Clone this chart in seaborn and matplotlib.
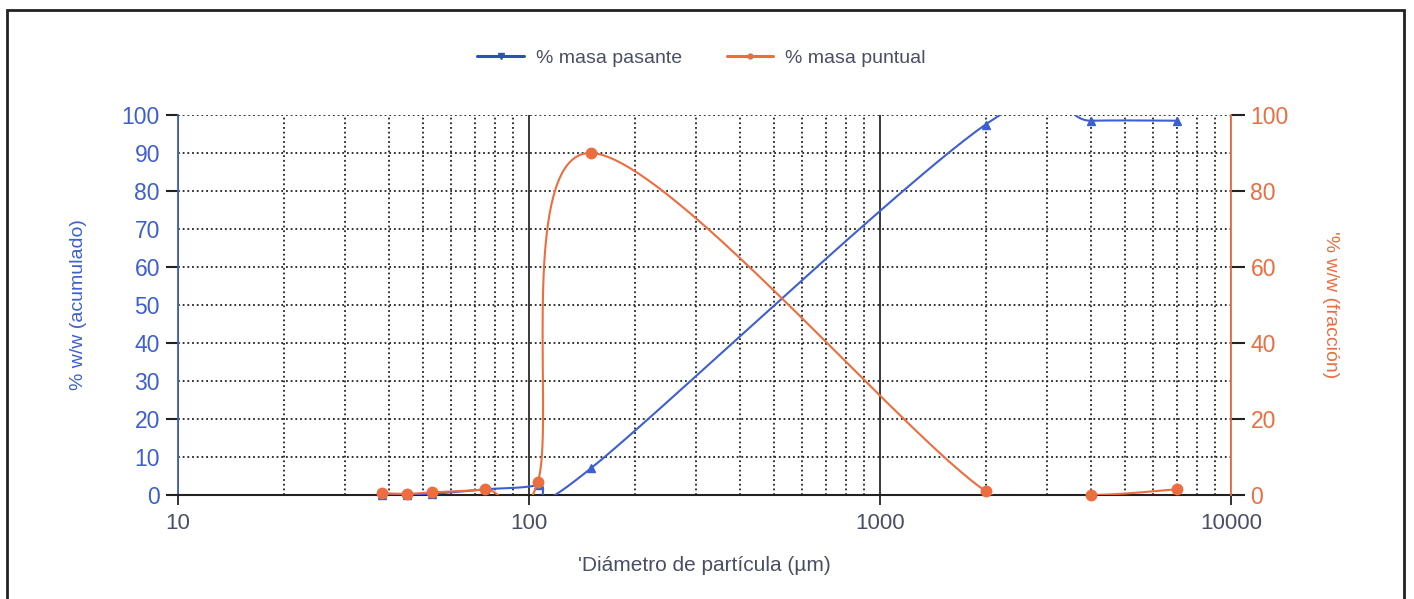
import numpy as np
import matplotlib
matplotlib.use("Agg")
import matplotlib.pyplot as plt
import seaborn as sns
from matplotlib.lines import Line2D
from matplotlib.patches import Rectangle
from matplotlib.ticker import LogLocator, NullFormatter

# Data
diametro = [38, 45, 53, 75, 106, 150, 2000, 4000, 7000]          # µm
masa_pasante = [0.0, 0.1, 0.3, 1.5, 2.6, 7.0, 97.5, 98.5, 98.5]   # % acumulado
masa_puntual = [0.5, 0.3, 0.7, 1.5, 3.5, 90.0, 1.0, 0.0, 1.5]     # % fraccion

x_ticks = [10, 100, 1000, 10000]
left_ticks = list(range(0, 101, 10))
right_ticks = list(range(0, 101, 20))

BLUE = "#3d5fd0"
ORANGE = "#ec6d3f"
TXT = "#4a4f66"


def excel_smooth(x, y, n=80):
    # smoothed line like the spreadsheet one: bezier segments in (log x, y)
    pts = np.column_stack([np.log10(x), y])
    ext = np.vstack([pts[0], pts, pts[-1]])
    out = []
    t = np.linspace(0, 1, n)[:, None]
    for i in range(len(pts) - 1):
        p0, p1 = pts[i], pts[i + 1]
        c1 = p0 + (ext[i + 2] - ext[i]) / 6
        c2 = p1 - (ext[i + 3] - ext[i + 1]) / 6
        seg = (1 - t) ** 3 * p0 + 3 * (1 - t) ** 2 * t * c1 + 3 * (1 - t) * t ** 2 * c2 + t ** 3 * p1
        out.append(seg if i == 0 else seg[1:])
    out = np.vstack(out)
    return 10 ** out[:, 0], out[:, 1]


sns.set_style("white")
plt.rcParams["font.family"] = ["Liberation Sans", "DejaVu Sans"]

fig = plt.figure(figsize=(14.14, 5.99), dpi=100)
ax = fig.add_axes([178 / 1414, 1 - 495 / 599, (1231 - 178) / 1414, (495 - 115) / 599])
ax2 = ax.twinx()

# smoothed curves
bx, by = excel_smooth(diametro, masa_pasante)
ox, oy = excel_smooth(diametro, masa_puntual)
sns.lineplot(x=bx, y=by, sort=False, estimator=None, ax=ax, color=BLUE, linewidth=1.5, zorder=3)
sns.lineplot(x=ox, y=oy, sort=False, estimator=None, ax=ax2, color=ORANGE, linewidth=1.5, zorder=3)
ax.plot(diametro, masa_pasante, linestyle="none", marker="^", color=BLUE, markersize=6, clip_on=False, zorder=4)
ax2.plot(diametro, masa_puntual, linestyle="none", marker="o", color=ORANGE, markersize=7.5, clip_on=False, zorder=4)

for a in (ax, ax2):
    a.set_xscale("log")
    a.set_xlim(10, 10000)
    a.set_ylim(0, 100)

ax.set_xticks(x_ticks)
ax.set_xticklabels([str(v) for v in x_ticks])
ax.xaxis.set_minor_locator(LogLocator(base=10, subs=range(2, 10)))
ax.xaxis.set_minor_formatter(NullFormatter())

ax.set_yticks(left_ticks[::2])
ax.set_yticklabels([str(v) for v in left_ticks[::2]])
ax.set_yticks(left_ticks[1::2], minor=True)
ax.set_yticklabels([str(v) for v in left_ticks[1::2]], minor=True)

ax2.set_yticks(right_ticks)
ax2.set_yticklabels([str(v) for v in right_ticks])

# grid
dots = (0, (1, 1.6))
ax.grid(axis="y", which="both", color="#222222", linestyle=dots, linewidth=1.3)
ax.grid(axis="x", which="minor", color="#222222", linestyle=dots, linewidth=1.3)
ax.grid(axis="x", which="major", color="#2a2a2a", linestyle="-", linewidth=1.3)
ax.set_axisbelow(True)

# spines
for s in ("top", "right"):
    ax.spines[s].set_visible(False)
for s in ("top", "left", "bottom"):
    ax2.spines[s].set_visible(False)
ax.spines["left"].set_color(BLUE)
ax.spines["left"].set_linewidth(1.3)
ax.spines["bottom"].set_color("#222222")
ax.spines["bottom"].set_linewidth(1.5)
ax2.spines["right"].set_color(ORANGE)
ax2.spines["right"].set_linewidth(1.3)

ax.tick_params(axis="x", which="major", direction="out", length=7, width=1.3, color="#222222",
               labelsize=16, labelcolor=TXT, pad=6, bottom=True)
ax.tick_params(axis="x", which="minor", length=0)
ax.tick_params(axis="y", which="major", direction="out", length=9, width=1.5, color="#222222",
               labelsize=16.5, labelcolor=BLUE, pad=4, left=True)
ax.tick_params(axis="y", which="minor", length=0, labelsize=16.5, labelcolor=BLUE, pad=13, left=True)
ax2.tick_params(axis="y", which="major", direction="out", length=10, width=1.5, color="#222222",
                labelsize=16.5, labelcolor=ORANGE, pad=4, right=True)

ax.set_xlabel("'Diámetro de partícula (µm)", fontsize=15, color=TXT, labelpad=16)
ax.set_ylabel("% w/w (acumulado)", fontsize=14, color=BLUE, labelpad=25)
ax2.set_ylabel("'% w/w (fracción)", fontsize=14, color=ORANGE, rotation=-90, labelpad=36)

handles = [
    Line2D([], [], color="#2e4fb5", linewidth=2.2, marker="v", markersize=4),
    Line2D([], [], color=ORANGE, linewidth=2.2, marker="o", markersize=3.5),
]
leg = fig.legend(handles, ["% masa pasante", "% masa puntual"], loc="center",
                 bbox_to_anchor=(0.496, 0.903), ncol=2, frameon=False, fontsize=14,
                 handlelength=2.4, columnspacing=2.3, handletextpad=0.6)
for txt in leg.get_texts():
    txt.set_color(TXT)

# frame around the whole chart
fig.patches.append(Rectangle((7 / 1414, -0.05), (1404 - 7) / 1414, 1 - 10 / 599 + 0.05,
                             transform=fig.transFigure, fill=False, edgecolor="#222222", linewidth=2))

fig.savefig("out.png", dpi=100)
